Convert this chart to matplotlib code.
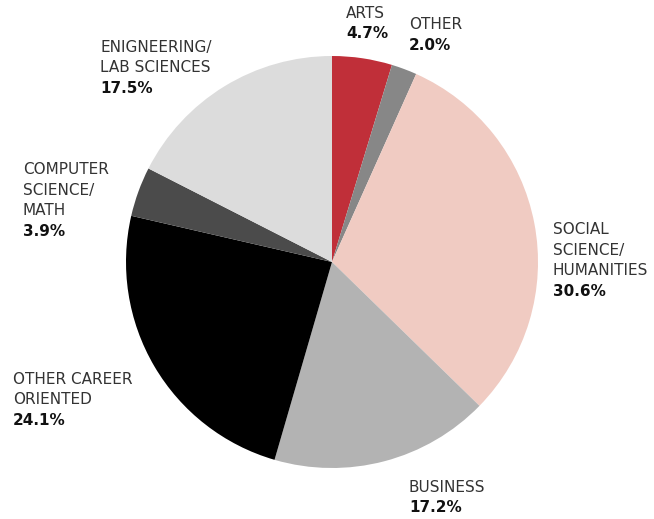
import matplotlib.pyplot as plt

categories = ['ARTS', 'OTHER', 'SOCIAL\nSCIENCE/\nHUMANITIES', 'BUSINESS',
              'OTHER CAREER\nORIENTED', 'COMPUTER\nSCIENCE/\nMATH',
              'ENIGNEERING/\nLAB SCIENCES']
shares = [4.7, 2.0, 30.6, 17.2, 24.1, 3.9, 17.5]
colors = ['#c02f39', '#878787', '#f0cbc2', '#b3b3b3', '#000000', '#4b4b4b', '#dcdcdc']
# top-left pixel of each label's first line
label_px = [(346, 7), (409, 18), (553, 223), (409, 481), (13, 373), (23, 163), (100, 41)]

plt.rcParams['font.family'] = 'DejaVu Sans'

W, H = 654, 519
fig = plt.figure(figsize=(W / 100, H / 100), dpi=100)
cx, cy, r = 332, 262, 206
ax = fig.add_axes([(cx - r) / W, (H - cy - r) / H, 2 * r / W, 2 * r / H])
ax.pie(shares, colors=colors, startangle=90, counterclock=False, radius=1,
       wedgeprops=dict(linewidth=0))
ax.set_xlim(-1, 1)
ax.set_ylim(-1, 1)
ax.set_aspect('equal')
ax.axis('off')

fs = 11
step = 20.5
for name, val, (x, y) in zip(categories, shares, label_px):
    lines = name.split('\n')
    for i, ln in enumerate(lines):
        # baseline = cap top + cap height (~11px)
        fig.text(x / W, 1 - (y + 11 + i * step) / H, ln, fontsize=fs,
                 color='#333333', va='baseline', ha='left')
    fig.text(x / W, 1 - (y + 11 + len(lines) * step) / H, '%.1f%%' % val,
             fontsize=fs, color='#111111', fontweight='bold',
             va='baseline', ha='left')

fig.savefig('out.png', dpi=100)
